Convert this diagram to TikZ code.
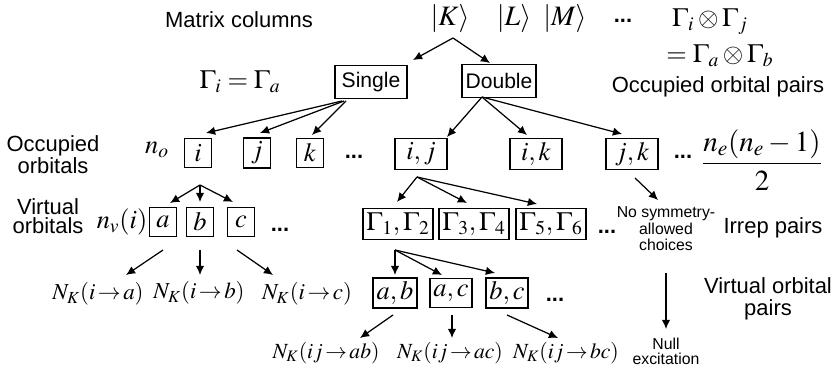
\documentclass[tikz,border=0pt]{standalone}
\usepackage{mathptmx}
\usepackage[no-math]{fontspec}
\setmainfont{Liberation Sans}
\usetikzlibrary{calc, arrows.meta}

\begin{document}
\begin{tikzpicture}[x=0.02cm, y=-0.02cm,
  lbl/.style={font=\fontsize{12.5}{12.5}\selectfont, align=center, inner sep=0pt},
  note/.style={font=\fontsize{9}{9.4}\selectfont, align=center, inner sep=0pt},
  mth/.style={font=\fontsize{15}{16}\selectfont, inner sep=0pt},
  cnt/.style={font=\fontsize{13}{15}\selectfont, inner sep=0pt},
  dots/.style={font=\fontsize{12.5}{14}\selectfont\bfseries, inner sep=0pt},
  box/.style={draw, line width=0.8pt, font=\fontsize{15}{16}\selectfont, minimum width=0.54cm, minimum height=0.58cm, inner sep=2pt},
  pairbox/.style={box, minimum width=1.04cm, minimum height=0.62cm},
  exbox/.style={draw, line width=0.8pt, font=\fontsize{12}{14}\selectfont, minimum width=1.44cm, minimum height=0.66cm, inner sep=2pt},
  arr/.style={-{Latex[length=5.2pt, width=4.8pt]}, line width=0.7pt}]
  \useasboundingbox (0,0) rectangle (836,372);
  % Top row: matrix columns
  \node[lbl] (cols) at (239,20) {Matrix columns};
  \foreach \n/\t/\x in {ketK/K/450, ketL/L/514, ketM/M/565} \node[mth, font=\fontsize{16}{17}\selectfont] (\n) at (\x,19) {$|\t\rangle$};
  \node[dots] (kdots) at (623,21) {...};
  \node[mth] (gprod) at (710,22) {$\Gamma_i\otimes\Gamma_j$};
  \node[mth] (gprodb) at (720,56) {$=\Gamma_a\otimes\Gamma_b$};
  % Single / double
  \node[mth] (gsing) at (240,82) {$\Gamma_i=\Gamma_a$};
  \node[exbox] (single) at (371,82) {Single};
  \node[exbox] (double) at (499,81) {Double};
  \node[lbl] (occpairs) at (718,87) {Occupied orbital pairs};
  \coordinate (kfork) at ($(ketK.center)+(3,19)$);
  \draw[arr] (kfork) -- ($(single.center)+(42,-22)$);
  \draw[arr] (kfork) -- ($(double.center)+(-9,-18)$);
  % Occupied orbitals
  \node[lbl] (occ) at (53,155) {Occupied\\orbitals};
  \node[mth] (no) at (157,150) {$n_o$};
  \foreach \n/\t/\x in {oi/i/198, oj/j/257, ok/k/310} \node[box] (\n) at (\x,153) {$\t$};
  \node[dots] (odots) at (354,157) {...};
  \foreach \n/\t/\x in {pij/{i,j}/421, pik/{i,k}/536, pjk/{j,k}/632} \node[pairbox] (\n) at (\x,154) {$\t$};
  \node[dots] (pdots) at (683,157) {...};
  \node[mth, font=\fontsize{16.5}{17}\selectfont] (npairs) at (762,160) {$\displaystyle\frac{n_e(n_e-1)}{2}$};
  \foreach \n/\dx/\dy/\sx in {oi/8/-20/-29, oj/3/-20/-27, ok/2/-18/-25} \draw[arr] ($(single.center)+(\sx,19)$) -- ($(\n.center)+(\dx,\dy)$);
  \foreach \n/\dx/\dy in {pij/26/-17, pik/-9/-19, pjk/-10/-20} \draw[arr] ($(double.center)+(-17,16)$) -- ($(\n.center)+(\dx,\dy)$);
  % Virtual orbitals and irrep pairs
  \node[lbl, font=\fontsize{12.5}{11}\selectfont] (virt) at (48,216) {Virtual\\orbitals};
  \node[mth] (nv) at (122,222) {$n_v(i)$};
  \foreach \n/\t/\x in {va/a/163, vb/b/200, vc/c/241} \node[box] (\n) at (\x,222) {$\t$};
  \node[dots] (vdots) at (280,230) {...};
  \foreach \n/\t/\x in {g12/{\Gamma_1,\Gamma_2}/398, g34/{\Gamma_3,\Gamma_4}/474, g56/{\Gamma_5,\Gamma_6}/551} \node[box, minimum height=0.62cm] (\n) at (\x,224) {$\t$};
  \node[dots] (gdots) at (607,232) {...};
  \node[note] (nosym) at (666,229) {No symmetry-\\allowed\\choices};
  \node[lbl] (irrep) at (773,228) {Irrep pairs};
  \foreach \n/\dx/\dy in {va/7/-19, vb/0/-20, vc/-8/-20} \draw[arr] ($(oi.center)+(2,32)$) -- ($(\n.center)+(\dx,\dy)$);
  \foreach \n/\dx/\dy in {g12/-1/-22, g34/-7/-21, g56/-14/-20} \draw[arr] ($(pij.center)+(-4,23)$) -- ($(\n.center)+(\dx,\dy)$);
  \draw[arr] ($(pjk.center)+(3,24)$) -- ($(nosym.center)+(-8,-29)$);
  % Single excitation counts
  \node[cnt] (nka) at (98,294) {$N_K(i\,{\rightarrow}\,a)$};
  \node[cnt] (nkb) at (199,293) {$N_K(i\,{\rightarrow}\,b)$};
  \node[cnt] (nkc) at (307,294) {$N_K(i\,{\rightarrow}\,c)$};
  \draw[arr] ($(va.center)+(0,28)$) -- ($(nka.center)+(28,-19)$);
  \draw[arr] ($(vb.center)+(0,28)$) -- ($(nkb.center)+(1,-18)$);
  \draw[arr] ($(vc.center)+(-4,28)$) -- ($(nkc.center)+(-34,-19)$);
  % Virtual orbital pairs
  \foreach \n/\t/\x in {ab/{a,b}/395, ac/{a,c}/451, bc/{b,c}/507} \node[box] (\n) at (\x,293) {$\t$};
  \node[dots] (abdots) at (555,300) {...};
  \node[lbl] (vpairs) at (768,299) {Virtual orbital\\pairs};
  \foreach \n/\dx/\dy in {ab/0/-18, ac/-9/-18, bc/-12/-20} \draw[arr] ($(g12.center)+(-3,26)$) -- ($(\n.center)+(\dx,\dy)$);
  % Double excitation counts
  \foreach \n/\t/\x in {nkab/ab/326, nkac/ac/450, nkbc/bc/566} \node[cnt, font=\fontsize{12.3}{14}\selectfont] (\n) at (\x,353) {$N_K(ij\,{\rightarrow}\,\t)$};
  \draw[arr] ($(ab.center)+(-2,22)$) -- ($(nkab.center)+(34,-15)$);
  \draw[arr] ($(ac.center)+(1,22)$) -- ($(nkac.center)+(2,-15)$);
  \draw[arr] ($(bc.center)+(0,22)$) -- ($(nkbc.center)+(-8,-15)$);
  % Null excitation
  \node[note, font=\fontsize{9}{8.6}\selectfont] (null) at (666,351) {Null\\excitation};
  \draw[arr] ($(nosym.center)+(0,44)$) -- ($(null.center)+(0,-22)$);
\end{tikzpicture}
\end{document}
